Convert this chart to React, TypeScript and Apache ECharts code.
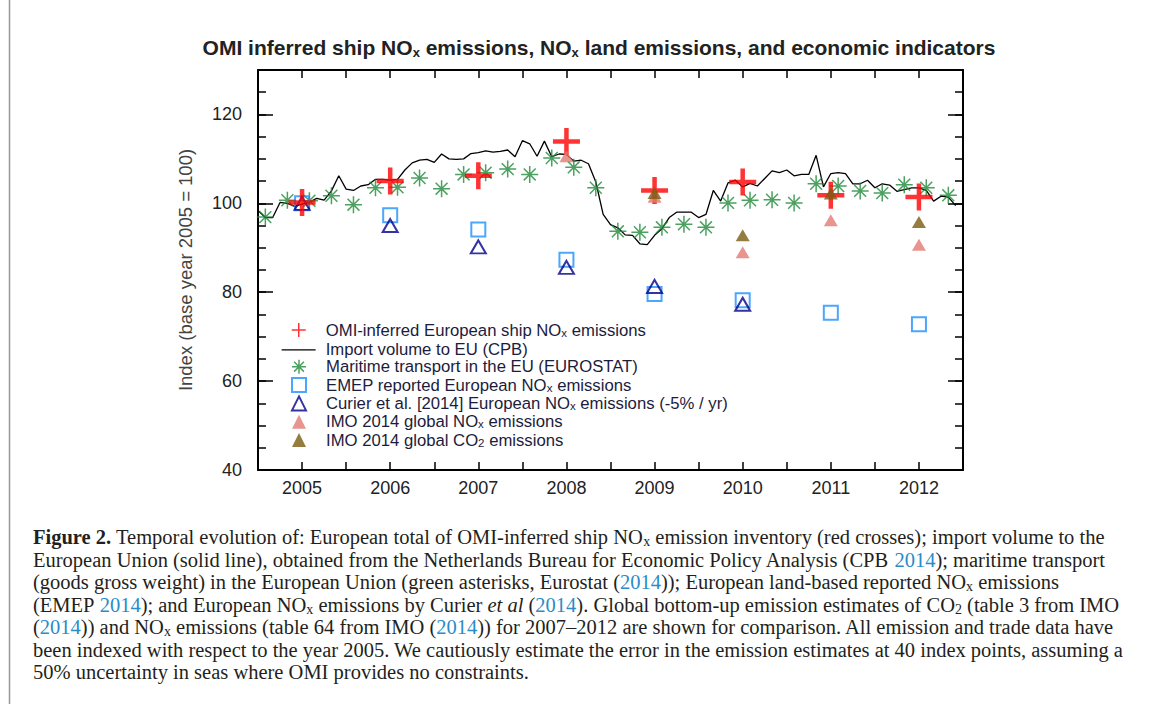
import React, { useEffect, useRef } from 'react';
import * as echarts from 'echarts';

// ---------- data ----------
const years = [2005, 2006, 2007, 2008, 2009, 2010, 2011, 2012];
const omiShipNOx = [100.2, 105.0, 106.2, 113.9, 102.9, 104.8, 101.8, 101.4];
const emepNOx = [100.0, 97.3, 94.1, 87.3, 79.6, 78.2, 75.4, 72.8];
const curierYears = [2005, 2006, 2007, 2008, 2009, 2010];
const curierNOx = [100.0, 95.0, 90.2, 85.6, 81.3, 77.3];
const imoNOxYears = [2008, 2009, 2010, 2011, 2012];
const imoNOx = [110.6, 101.5, 89.0, 96.2, 90.7];
const imoCO2Years = [2009, 2010, 2011, 2012];
const imoCO2 = [102.3, 92.8, 102.2, 95.8];

// monthly import volume (CPB), starting July 2004
const importStartYear = 2004.5;
const importVolume = [
  98.4, 96.8, 96.8, 100.2, 100.0, 99.3, 99.8, 100.3, 101.1, 100.7, 102.8, 106.2,
  103.2, 102.9, 103.9, 104.2, 105.4, 105.4, 105.2, 105.4, 107.5, 109.1, 109.7, 109.9,
  109.2, 111.1, 110.0, 109.9, 110.0, 111.2, 111.4, 111.8, 111.5, 111.7, 112.0, 110.5,
  114.1, 113.4, 110.6, 114.0, 110.5, 111.1, 111.0, 109.5, 109.7, 108.9, 104.8, 97.5,
  95.2, 94.5, 92.9, 92.8, 90.9, 90.7, 92.8, 94.3, 96.8, 98.0, 98.0, 98.0,
  96.8, 97.5, 102.9, 100.5, 104.6, 105.2, 103.7, 104.5, 103.9, 105.6, 107.3, 106.9,
  107.5, 106.2, 106.5, 106.5, 110.8, 103.7, 106.7, 106.9, 106.7, 104.4, 104.4, 105.2,
  103.5, 104.4, 104.1, 102.7, 103.1, 103.5, 103.5, 102.9, 100.5, 101.6, 101.4, 99.5,
];

// quarterly maritime transport (EUROSTAT), starting Q3 2004
const maritimeStartYear = 2004.5;
const maritimeTransport = [
  96.9, 100.7, 100.6, 101.7, 99.7, 103.5, 103.6, 105.7,
  103.3, 106.5, 106.9, 107.7, 106.5, 110.2, 108.1, 103.5,
  93.7, 93.5, 94.6, 95.3, 94.6, 100.1, 100.7, 100.8,
  100.1, 104.4, 103.9, 102.8, 102.3, 104.2, 103.5, 101.8,
];

const yTicksMajor = 20;
const yTicksMinor = 5;

// ---------- names ----------
const N_OMI = 'OMI-inferred European ship NOx emissions';
const N_IMP = 'Import volume to EU (CPB)';
const N_MAR = 'Maritime transport in the EU (EUROSTAT)';
const N_EMEP = 'EMEP reported European NOx emissions';
const N_CUR = 'Curier et al. [2014] European NOx emissions (-5% / yr)';
const N_IMON = 'IMO 2014 global NOx emissions';
const N_IMOC = 'IMO 2014 global CO2 emissions';

const legendRich: Record<string, string> = {
  [N_OMI]: 'OMI-inferred European ship NO{sub|x} emissions',
  [N_IMP]: 'Import volume to EU (CPB)',
  [N_MAR]: 'Maritime transport in the EU (EUROSTAT)',
  [N_EMEP]: 'EMEP reported European NO{sub|x} emissions',
  [N_CUR]: 'Curier et al. [2014] European NO{sub|x} emissions (-5% / yr)',
  [N_IMON]: 'IMO 2014 global NO{sub|x} emissions',
  [N_IMOC]: 'IMO 2014 global CO{sub|2} emissions',
};

const captionLines = [
  '{b|Figure 2.} Temporal evolution of: European total of OMI-inferred ship NO{sub|x} emission inventory (red crosses); import volume to the',
  'European Union (solid line), obtained from the Netherlands Bureau for Economic Policy Analysis (CPB {link|2014}); maritime transport',
  '(goods gross weight) in the European Union (green asterisks, Eurostat ({link|2014})); European land-based reported NO{sub|x} emissions',
  '(EMEP {link|2014}); and European NO{sub|x} emissions by Curier {it|et al} ({link|2014}). Global bottom-up emission estimates of CO{sub|2} (table 3 from IMO',
  '({link|2014})) and NO{sub|x} emissions (table 64 from IMO ({link|2014})) for 2007–2012 are shown for comparison. All emission and trade data have',
  'been indexed with respect to the year 2005. We cautiously estimate the error in the emission estimates at 40 index points, assuming a',
  '50% uncertainty in seas where OMI provides no constraints.',
];

const SANS = "'Liberation Sans', Arial, Helvetica, sans-serif";
const SERIF = "'Liberation Serif', 'Times New Roman', serif";

const PLUS = 'path://M0,50L100,50M50,0L50,100';
const ASTER = 'path://M0,50L100,50M50,0L50,100M15,15L85,85M85,15L15,85';

const LEG_FS = 16.7;
const LEG_ROW0 = 330;
const LEG_STEP = 18.35;

export default function App() {
  const ref = useRef<HTMLDivElement>(null);

  useEffect(() => {
    const chart = echarts.init(ref.current!, null, { renderer: 'svg' });

    const axisLine = { show: true, onZero: false, lineStyle: { color: '#000', width: 2 } };
    const tickStyle = { color: '#000', width: 1.5 };

    const yBase = { type: 'value', min: 40, max: 130, splitLine: { show: false } };

    const capFs = 20.5;
    const captionGraphics = captionLines.map((t, i) => ({
      type: 'text',
      x: 33,
      y: 537 + i * 22.5,
      style: {
        text: t,
        fontFamily: SERIF,
        fontSize: capFs,
        fill: '#231f20',
        align: 'left',
        verticalAlign: 'middle',
        lineHeight: 23,
        rich: {
          b: { fontFamily: SERIF, fontSize: capFs, fontWeight: 'bold', fill: '#231f20', lineHeight: 23 },
          link: { fontFamily: SERIF, fontSize: capFs, fill: '#2a8cc8', lineHeight: 23 },
          it: { fontFamily: SERIF, fontSize: capFs, fontStyle: 'italic', fill: '#231f20', lineHeight: 23 },
          sub: { fontFamily: SERIF, fontSize: 14, fill: '#231f20', lineHeight: 14, verticalAlign: 'bottom' },
        },
      },
    }));

    const legendText = (padLeft: number) => ({
      fontFamily: SANS, fontSize: LEG_FS, color: '#1c1c3c', lineHeight: 17, padding: [0, 0, 0, padLeft],
      rich: {
        sub: { fontFamily: SANS, fontSize: 11.5, color: '#1c1c3c', lineHeight: 9, verticalAlign: 'bottom' },
      },
    });
    const legendCommon = {
      orient: 'vertical', selectedMode: false, itemHeight: 14, itemGap: LEG_STEP - 17,
      padding: 0,
      formatter: (name: string) => legendRich[name] || name,
    };

    const option: any = {
      animation: false,
      backgroundColor: '#fff',
      grid: { left: 258, right: 190, top: 70, bottom: 234, containLabel: false },
      xAxis: [
        {
          type: 'value', min: 2004.5, max: 2012.5, interval: 0.5, position: 'bottom',
          axisLine, axisTick: { show: true, inside: true, length: 8, lineStyle: tickStyle },
          axisLabel: {
            formatter: (v: number) => (Number.isInteger(v) ? String(v) : ''),
            fontFamily: SANS, fontSize: 18, color: '#222', margin: 9,
          },
          splitLine: { show: false },
        },
        {
          type: 'value', min: 2004.5, max: 2012.5, interval: 0.5, position: 'top',
          axisLine, axisTick: { show: true, inside: true, length: 8, lineStyle: tickStyle },
          axisLabel: { show: false }, splitLine: { show: false },
        },
      ],
      yAxis: [
        {
          ...yBase, interval: yTicksMajor, position: 'left',
          axisLine, axisTick: { show: true, inside: true, length: 15, lineStyle: tickStyle },
          axisLabel: {
            formatter: (v: number) => (v % yTicksMajor === 0 ? String(v) : ''),
            fontFamily: SANS, fontSize: 18, color: '#222', margin: 16,
          },
          name: 'Index (base year 2005 = 100)', nameLocation: 'middle', nameGap: 63,
          nameTextStyle: { fontFamily: SANS, fontSize: 18.5, color: '#444' },
        },
        {
          ...yBase, interval: yTicksMinor, position: 'left',
          axisLine: { show: false }, axisTick: { show: true, inside: true, length: 8, lineStyle: tickStyle },
          axisLabel: { show: false },
        },
        {
          ...yBase, interval: yTicksMajor, position: 'right',
          axisLine, axisTick: { show: true, inside: true, length: 15, lineStyle: tickStyle },
          axisLabel: { show: false },
        },
        {
          ...yBase, interval: yTicksMinor, position: 'right',
          axisLine: { show: false }, axisTick: { show: true, inside: true, length: 8, lineStyle: tickStyle },
          axisLabel: { show: false },
        },
      ],
      legend: [
        {
          ...legendCommon, left: 291, top: LEG_ROW0 - 8.5, itemWidth: 14,
          data: [{ name: N_OMI, itemStyle: { borderWidth: 1.5 } }],
          textStyle: legendText(15),
        },
        {
          ...legendCommon, left: 281, top: LEG_ROW0 + LEG_STEP - 7, itemWidth: 34,
          data: [{ name: N_IMP, itemStyle: { opacity: 0 }, lineStyle: { width: 1.3 } }],
          textStyle: legendText(5),
        },
        {
          ...legendCommon, left: 291, top: LEG_ROW0 + 2 * LEG_STEP - 8.5, itemWidth: 14,
          data: [
            { name: N_MAR, itemStyle: { borderWidth: 1.5 } },
            { name: N_EMEP },
            { name: N_CUR },
            { name: N_IMON },
            { name: N_IMOC },
          ],
          textStyle: legendText(15),
        },
      ],
      series: [
        {
          name: N_IMP, type: 'line', showSymbol: false, symbol: 'none',
          data: importVolume.map((v, i) => [importStartYear + i / 12, v]),
          lineStyle: { color: '#000', width: 1.3 }, itemStyle: { color: '#000' }, z: 2,
        },
        {
          name: N_MAR, type: 'scatter', symbol: ASTER, symbolSize: 17, symbolKeepAspect: true,
          data: maritimeTransport.map((v, i) => [maritimeStartYear + (3 * i + 1) / 12, v]),
          itemStyle: { color: '#1f8a3a', borderColor: '#1f8a3a', borderWidth: 1.5 }, z: 3,
        },
        {
          name: N_EMEP, type: 'scatter', symbol: 'rect', symbolSize: 14, symbolKeepAspect: true,
          data: years.map((y, i) => [y, emepNOx[i]]),
          itemStyle: { color: 'rgba(255,255,255,0)', borderColor: '#1e90ff', borderWidth: 2 }, z: 3,
        },
        {
          name: N_CUR, type: 'scatter', symbol: 'triangle', symbolSize: [15, 13], symbolKeepAspect: true,
          data: curierYears.map((y, i) => [y, curierNOx[i]]),
          itemStyle: { color: 'rgba(255,255,255,0)', borderColor: '#00008b', borderWidth: 2 }, z: 3,
        },
        {
          name: N_OMI, type: 'scatter', symbol: PLUS, symbolSize: 27, symbolKeepAspect: true,
          data: years.map((y, i) => [y, omiShipNOx[i]]),
          itemStyle: { color: '#ff0000', borderColor: '#ff0000', borderWidth: 4.5 }, z: 3,
        },
        {
          name: N_IMON, type: 'scatter', symbol: 'triangle', symbolSize: [14, 12], symbolKeepAspect: true,
          data: imoNOxYears.map((y, i) => [y, imoNOx[i]]),
          itemStyle: { color: '#e27b73' }, z: 3,
        },
        {
          name: N_IMOC, type: 'scatter', symbol: 'triangle', symbolSize: [14, 12], symbolKeepAspect: true,
          data: imoCO2Years.map((y, i) => [y, imoCO2[i]]),
          itemStyle: { color: '#7a5b0f' }, z: 3,
        },
      ],
      graphic: [
        {
          type: 'line', shape: { x1: 9.5, y1: 0, x2: 9.5, y2: 704 },
          style: { stroke: '#999', lineWidth: 1.5 },
        },
        {
          type: 'text', x: 599, y: 47,
          style: {
            text: 'OMI inferred ship NO{sub|x} emissions, NO{sub|x} land emissions, and economic indicators',
            fontFamily: SANS, fontSize: 21, fontWeight: 'bold', fill: '#222',
            align: 'center', verticalAlign: 'middle', lineHeight: 24,
            rich: {
              sub: { fontFamily: SANS, fontSize: 13, fontWeight: 'bold', fill: '#222', lineHeight: 13, verticalAlign: 'bottom' },
            },
          },
        },
        ...captionGraphics,
      ],
    };

    chart.setOption(option);
    return () => chart.dispose();
  }, []);

  return (
    <div
      ref={ref}
      style={{ position: 'absolute', left: 0, top: 0, width: 1153, height: 704, background: '#fff' }}
    />
  );
}
